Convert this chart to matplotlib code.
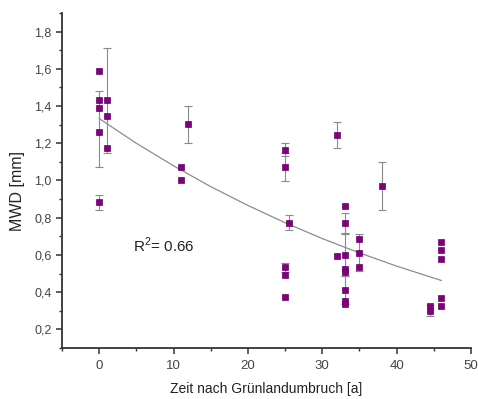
import matplotlib
matplotlib.use("Agg")
import matplotlib.pyplot as plt
from matplotlib.ticker import MultipleLocator, FuncFormatter

# ---- data ----
x_vals = [0, 0, 0, 0, 0,
          1, 1, 1,
          11, 11,
          12,
          25, 25, 25, 25, 25,
          25.5,
          32, 32,
          33, 33, 33, 33, 33, 33, 33, 33,
          35, 35, 35,
          38,
          44.5, 44.5,
          46, 46, 46, 46, 46]
mwd_vals = [1.59, 1.434, 1.39, 1.263, 0.884,
            1.434, 1.345, 1.173,
            1.073, 1.004,
            1.304,
            1.163, 1.073, 0.534, 0.492, 0.373,
            0.773,
            1.243, 0.594,
            0.862, 0.773, 0.600, 0.526, 0.508, 0.412, 0.353, 0.334,
            0.683, 0.612, 0.535,
            0.973,
            0.325, 0.300,
            0.670, 0.624, 0.580, 0.367, 0.323]

err_x = [0, 0, 1, 12, 25, 25, 25, 25.5, 32, 33, 33, 33, 35, 38, 44.5]
err_y = [1.275, 0.884, 1.43, 1.30, 1.165, 1.073, 0.534, 0.773, 1.243, 0.773, 0.60, 0.412, 0.612, 0.97, 0.30]
err_size = [0.205, 0.04, 0.28, 0.10, 0.035, 0.075, 0.025, 0.04, 0.07, 0.055, 0.115, 0.075, 0.10, 0.13, 0.03]

# trend curve, points
fit_x = [0, 5, 10, 15, 20, 25, 30, 35, 40, 46]
fit_y = [1.333, 1.200, 1.079, 0.967, 0.866, 0.773, 0.688, 0.611, 0.540, 0.463]

r2_label = "R$^2$= 0.66"
x_label = "Zeit nach Grünlandumbruch [a]"
y_label = "MWD [mm]"

# ---- plot ----
plt.rcParams['font.family'] = ['Liberation Sans', 'DejaVu Sans']
plt.rcParams['mathtext.fontset'] = 'custom'
plt.rcParams['mathtext.rm'] = 'Liberation Sans'
fig = plt.figure(figsize=(4.78, 3.99), dpi=100)
ax = fig.add_axes([62/478, 51/399, 409/478, 335/399])

ax.errorbar(err_x, err_y, yerr=err_size, fmt='none', ecolor='#8a8a8a',
            elinewidth=0.8, capsize=2.6, capthick=0.8, zorder=2)
ax.plot(fit_x, fit_y, color='#8c8c8c', linewidth=0.9, zorder=3)
ax.plot(x_vals, mwd_vals, linestyle='none', marker='s', markersize=4.6,
        markerfacecolor='#800080', markeredgecolor='#6a006a',
        markeredgewidth=0.5, zorder=4)

ax.text(4.6, 0.65, r2_label, fontsize=11, color='#222222', va='center', ha='left')

ax.set_xlim(-5, 50)
ax.set_ylim(0.1, 1.9)
ax.xaxis.set_major_locator(MultipleLocator(10))
ax.xaxis.set_minor_locator(MultipleLocator(5))
ax.yaxis.set_major_locator(MultipleLocator(0.2))
ax.yaxis.set_minor_locator(MultipleLocator(0.1))
ax.yaxis.set_major_formatter(FuncFormatter(lambda v, p: f"{v:.1f}".replace('.', ',')))
ax.xaxis.set_major_formatter(FuncFormatter(lambda v, p: f"{v:.0f}"))

for s in ['top', 'right']:
    ax.spines[s].set_visible(False)
for s in ['left', 'bottom']:
    ax.spines[s].set_linewidth(1.3)
    ax.spines[s].set_color('#333333')

ax.tick_params(which='major', direction='out', length=4.5, width=1.1,
               color='#333333', labelcolor='#444444', pad=3)
ax.tick_params(axis='y', which='major', labelsize=9)
ax.tick_params(axis='x', which='major', labelsize=9.5, pad=4)
ax.tick_params(which='minor', direction='out', length=2.5, width=1.0, color='#333333')

ax.set_xlabel(x_label, fontsize=10, color='#222222')
ax.set_ylabel(y_label, fontsize=11.5, color='#222222')
ax.xaxis.set_label_coords(0.5, -0.1)
ax.yaxis.set_label_coords(-0.09, 0.469)

fig.savefig("out.png", dpi=100)
